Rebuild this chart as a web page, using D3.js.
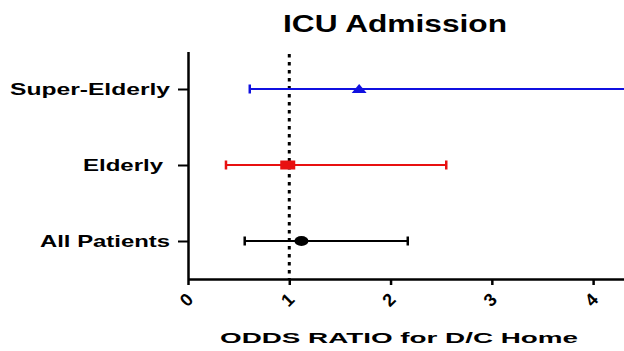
<!DOCTYPE html>
<html>
<head>
<meta charset="utf-8">
<script src="https://cdn.jsdelivr.net/npm/d3@7"></script>
<style>
  html, body { margin: 0; padding: 0; background: #fff; }
  svg { display: block; }
  text { font-family: "Liberation Sans", Arial, Helvetica, sans-serif; font-weight: bold; fill: #000; }
</style>
</head>
<body>
<svg id="chart" width="624" height="351"></svg>
<script>
// Odds ratios with 95% confidence intervals
const groups = ["Super-Elderly", "Elderly", "All Patients"];
const oddsRatio = [1.69, 0.985, 1.12];
const lowerCI = [0.61, 0.375, 0.56];
const upperCI = [5.2, 2.55, 2.17];
const colors = ["#1010e0", "#e81010", "#000000"];
const markers = ["triangle", "square", "circle"];
const xTicks = [0, 1, 2, 3, 4];
const referenceValue = 1;

const svg = d3.select("#chart");
const plotLeft = 188, plotRight = 624, plotTop = 52, plotBottom = 279;

const x = d3.scaleLinear().domain([0, 4.305]).range([plotLeft, plotRight]);
const y = d3.scalePoint().domain(groups).range([89, 241]);

// Title
svg.append("text")
  .attr("x", 395).attr("y", 32)
  .attr("text-anchor", "middle")
  .attr("font-size", 23)
  .attr("textLength", 224).attr("lengthAdjust", "spacingAndGlyphs")
  .text("ICU Admission");

// Plot area clip so the open-ended interval runs off the edge
svg.append("clipPath").attr("id", "plotClip")
  .append("rect").attr("x", plotLeft).attr("y", 0).attr("width", plotRight - plotLeft).attr("height", plotBottom);

// Reference line at OR = 1
svg.append("line")
  .attr("x1", x(referenceValue)).attr("x2", x(referenceValue))
  .attr("y1", plotTop + 2).attr("y2", plotBottom)
  .attr("stroke", "#000").attr("stroke-width", 3)
  .attr("stroke-dasharray", "3.5,4.5");

// Intervals and point estimates
const plot = svg.append("g").attr("clip-path", "url(#plotClip)");
groups.forEach((g, i) => {
  const cy = y(g);
  const c = colors[i];
  plot.append("line")
    .attr("x1", x(lowerCI[i])).attr("x2", x(upperCI[i]))
    .attr("y1", cy).attr("y2", cy)
    .attr("stroke", c).attr("stroke-width", 2);
  [lowerCI[i], upperCI[i]].forEach(v => {
    plot.append("line")
      .attr("x1", x(v)).attr("x2", x(v))
      .attr("y1", cy - 4.5).attr("y2", cy + 4.5)
      .attr("stroke", c).attr("stroke-width", 2.5);
  });
  const px = x(oddsRatio[i]);
  if (markers[i] === "triangle") {
    plot.append("path")
      .attr("d", `M${px - 7.5},${cy + 4} L${px + 7.5},${cy + 4} L${px},${cy - 5} Z`)
      .attr("fill", c);
  } else if (markers[i] === "square") {
    plot.append("rect")
      .attr("x", px - 7.5).attr("y", cy - 4.5)
      .attr("width", 15).attr("height", 9)
      .attr("fill", c);
  } else {
    plot.append("ellipse")
      .attr("cx", px).attr("cy", cy)
      .attr("rx", 7).attr("ry", 5)
      .attr("fill", c);
  }
});

// X axis
const xAxis = svg.append("g")
  .attr("transform", `translate(0,${plotBottom})`)
  .call(d3.axisBottom(x).tickValues(xTicks).tickSize(6).tickSizeOuter(0).tickFormat(d3.format("d")));
xAxis.select(".domain").attr("stroke", "#000").attr("stroke-width", 2.5);
xAxis.selectAll(".tick line").attr("stroke", "#000").attr("stroke-width", 2.5);
xAxis.selectAll(".tick text")
  .attr("font-size", 18)
  .attr("y", 0).attr("dy", 0)
  .attr("text-anchor", "middle")
  .attr("dominant-baseline", "central")
  .attr("transform", "translate(-2,21) rotate(-45)");

// Y axis
const yAxis = svg.append("g")
  .attr("transform", `translate(${plotLeft},0)`)
  .call(d3.axisLeft(y).tickSize(10).tickSizeOuter(0).tickPadding(7));
yAxis.select(".domain").attr("stroke", "#000").attr("stroke-width", 2.5)
  .attr("d", `M0.5,${plotTop}V${plotBottom}`);
yAxis.selectAll(".tick line").attr("stroke", "#000").attr("stroke-width", 2);
const labelWidths = { "Super-Elderly": 160, "Elderly": 80, "All Patients": 130 };
yAxis.selectAll(".tick text")
  .attr("font-size", 16.5)
  .attr("dy", "0.36em")
  .attr("x", d => d === "Elderly" ? -25 : -18)
  .attr("textLength", d => labelWidths[d])
  .attr("lengthAdjust", "spacingAndGlyphs");

// X axis title
svg.append("text")
  .attr("x", 399).attr("y", 343)
  .attr("text-anchor", "middle")
  .attr("font-size", 15.5)
  .attr("textLength", 358).attr("lengthAdjust", "spacingAndGlyphs")
  .text("ODDS RATIO for D/C Home");
</script>
</body>
</html>
